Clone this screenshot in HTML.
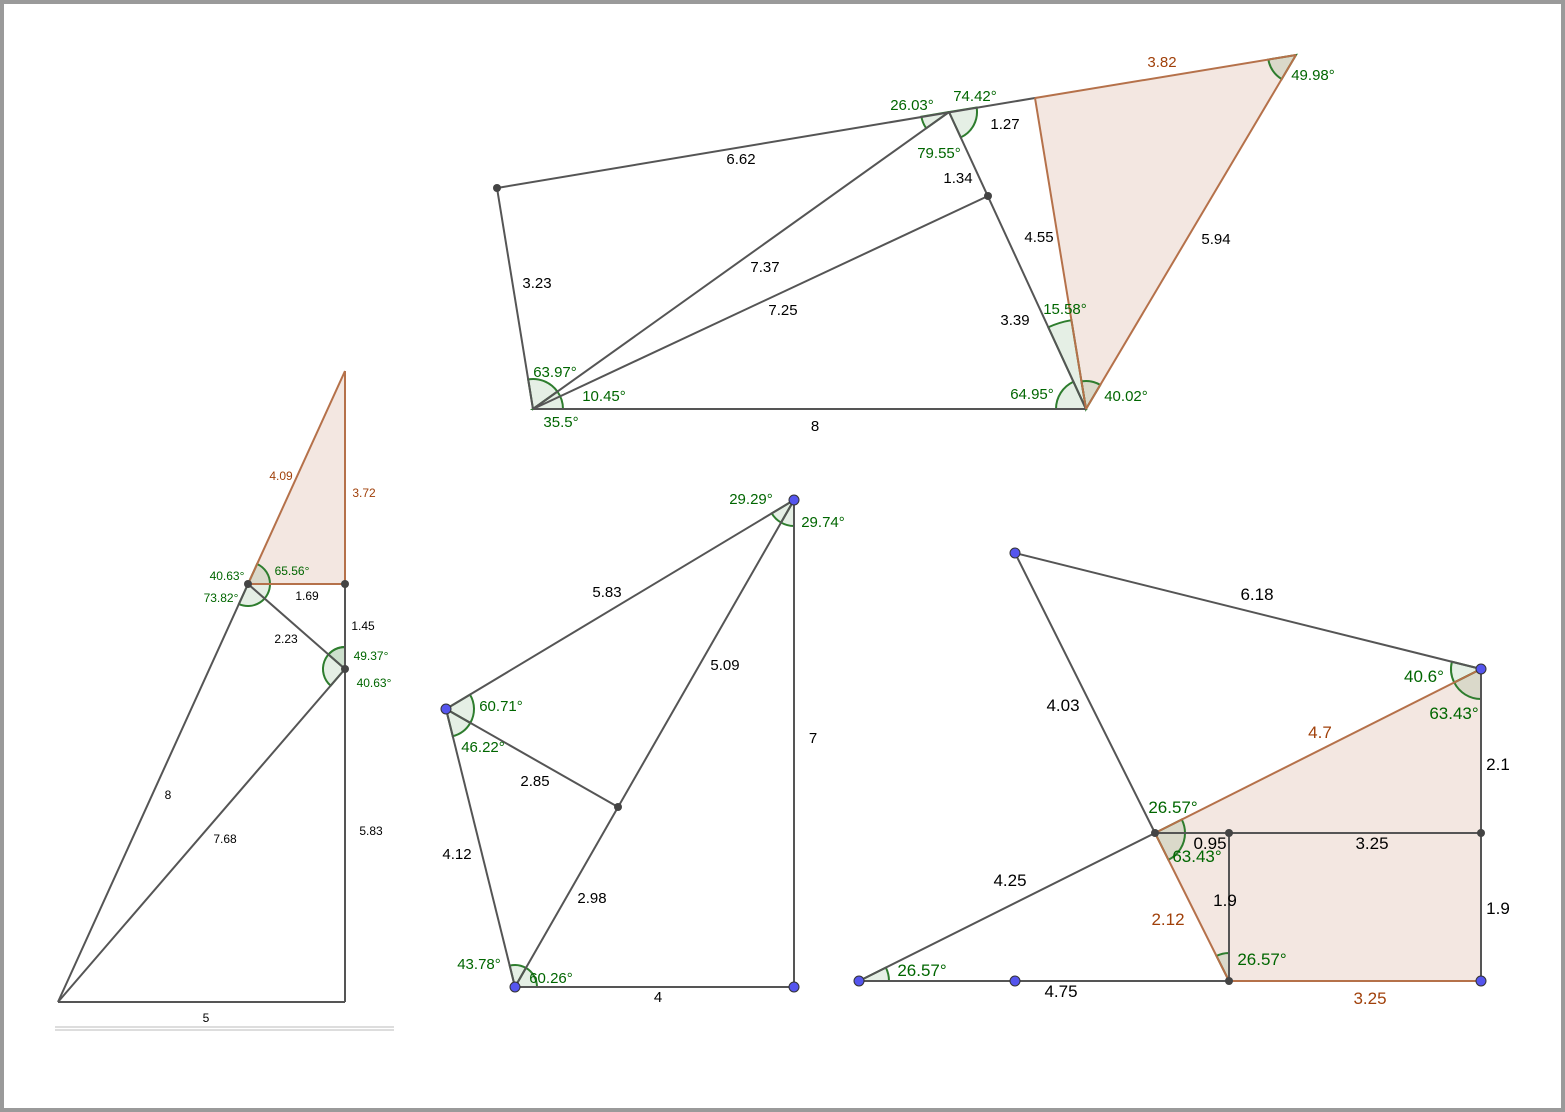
<!DOCTYPE html>
<html><head><meta charset="utf-8"><style>
html,body{margin:0;padding:0;background:#fff}
svg{display:block}
text{font-family:"Liberation Sans",sans-serif}
</style></head><body>
<svg id="s" width="1565" height="1112" viewBox="0 0 1565 1112" xmlns="http://www.w3.org/2000/svg">
<rect x="2" y="2" width="1561" height="1108" fill="#fff" stroke="#9a9a9a" stroke-width="4"/>
<line x1="55" y1="1027" x2="394" y2="1027" stroke="#bbb" stroke-width="1"/>
<line x1="55" y1="1030" x2="394" y2="1030" stroke="#bbb" stroke-width="1"/>
<g id="g"></g>
</svg>
<script>
const P = {
  A:[58,1002],B:[345,1002],C:[345,669],D:[345,584],E:[248,584],F:[345,371],
  P1:[497,188],P2:[533,409],P3:[1086,409],P4:[949,112],P5:[1035,98],P6:[1296,55],P7:[988,196],
  Q1:[794,500],Q2:[446,709],Q3:[515,987],Q4:[794,987],Q5:[618,807],
  R1:[1015,553],R2:[1481,669],R3:[1155,833],R4:[1229,833],R5:[1481,833],R6:[859,981],R7:[1015,981],R8:[1229,981],R9:[1481,981]
};
const fills = [["E","D","F"],["P5","P6","P3"],["R3","R2","R9","R8"]];
const grayEdges = [["A","B"],["B","D"],["A","E"],["A","C"],["E","C"],
 ["P1","P5"],["P1","P2"],["P2","P3"],["P2","P4"],["P2","P7"],["P4","P3"],
 ["Q1","Q2"],["Q1","Q3"],["Q2","Q5"],["Q2","Q3"],["Q3","Q4"],["Q4","Q1"],
 ["R1","R2"],["R1","R3"],["R6","R3"],["R3","R5"],["R4","R8"],["R2","R5"],["R5","R9"],["R6","R8"]];
const brownEdges = [["E","D"],["D","F"],["E","F"],["P5","P6"],["P6","P3"],["P5","P3"],["R3","R2"],["R3","R8"],["R8","R9"]];
const angles = [
 ["E","A","D",22],["E","D","F",22],["C","E","D",22],["C","A","D",22],
 ["P4","P1","P2",28],["P4","P7","P5",28],["P2","P3","P4",30],["P2","P1","P4",30],
 ["P3","P4","P2",30],["P3","P5","P4",90],["P3","P5","P6",28],["P6","P5","P3",28],
 ["Q1","Q2","Q3",26],["Q1","Q3","Q4",26],["Q2","Q1","Q5",28],["Q2","Q5","Q3",28],["Q3","Q2","Q5",22],["Q3","Q5","Q4",22],
 ["R2","R1","R3",30],["R2","R3","R5",30],["R3","R2","R5",30],["R3","R5","R8",30],["R8","R3","R4",28],["R6","R8","R2",30]
];
const labels = [
 ["5",206,1022,"#000",12],["8",168,799,"#000",12],["7.68",225,843,"#000",12],["5.83",371,835,"#000",12],["1.45",363,630,"#000",12],
 ["2.23",286,643,"#000",12],["1.69",307,600,"#000",12],["4.09",281,480,"#a0400a",12],["3.72",364,497,"#a0400a",12],
 ["40.63°",227,580,"#006600",12],["65.56°",292,575,"#006600",12],["73.82°",221,602,"#006600",12],["49.37°",371,660,"#006600",12],["40.63°",374,687,"#006600",12],
 ["6.62",741,164,"#000",15],["3.23",537,288,"#000",15],["7.37",765,272,"#000",15],["7.25",783,315,"#000",15],["8",815,431,"#000",15],
 ["1.27",1005,129,"#000",15],["1.34",958,183,"#000",15],["4.55",1039,242,"#000",15],["3.39",1015,325,"#000",15],["5.94",1216,244,"#000",15],["3.82",1162,67,"#a0400a",15],
 ["26.03°",912,110,"#006600",15],["74.42°",975,101,"#006600",15],["79.55°",939,158,"#006600",15],["49.98°",1313,80,"#006600",15],
 ["15.58°",1065,314,"#006600",15],["64.95°",1032,399,"#006600",15],["40.02°",1126,401,"#006600",15],
 ["63.97°",555,377,"#006600",15],["10.45°",604,401,"#006600",15],["35.5°",561,427,"#006600",15],
 ["5.83",607,597,"#000",15],["5.09",725,670,"#000",15],["7",813,743,"#000",15],["2.85",535,786,"#000",15],["4.12",457,859,"#000",15],["2.98",592,903,"#000",15],["4",658,1002,"#000",15],
 ["29.29°",751,504,"#006600",15],["29.74°",823,527,"#006600",15],["60.71°",501,711,"#006600",15],["46.22°",483,752,"#006600",15],["43.78°",479,969,"#006600",15],["60.26°",551,983,"#006600",15],
 ["6.18",1257,600,"#000",17],["4.03",1063,711,"#000",17],["4.25",1010,886,"#000",17],["4.75",1061,997,"#000",17],["0.95",1210,849,"#000",17],["3.25",1372,849,"#000",17],
 ["1.9",1225,906,"#000",17],["1.9",1498,914,"#000",17],["2.1",1498,770,"#000",17],["4.7",1320,738,"#a0400a",17],["2.12",1168,925,"#a0400a",17],["3.25",1370,1004,"#a0400a",17],
 ["40.6°",1424,682,"#006600",17],["63.43°",1454,719,"#006600",17],["26.57°",1173,813,"#006600",17],["63.43°",1197,862,"#006600",17],["26.57°",1262,965,"#006600",17],["26.57°",922,976,"#006600",17]
];
const darkPts = ["E","D","C","P1","P7","Q5","R3","R4","R5","R8"];
const bluePts = ["Q1","Q2","Q3","Q4","R1","R2","R6","R7","R9"];
const NS="http://www.w3.org/2000/svg", g=document.getElementById('g');
function mk(t,a){const e=document.createElementNS(NS,t);for(const k in a)e.setAttribute(k,a[k]);g.appendChild(e);return e;}
fills.forEach((f,i)=>{const e=mk('polygon',{points:f.map(k=>P[k].join(',')).join(' '),fill:'#f3e7e1',stroke:'none'});

});
angles.forEach((a,i)=>{const v=P[a[0]],p=P[a[1]],q=P[a[2]],r=a[3];
 let a1=Math.atan2(p[1]-v[1],p[0]-v[0]),a2=Math.atan2(q[1]-v[1],q[0]-v[0]);
 let d=a2-a1;while(d<=-Math.PI)d+=2*Math.PI;while(d>Math.PI)d-=2*Math.PI;
 const x1=v[0]+r*Math.cos(a1),y1=v[1]+r*Math.sin(a1),x2=v[0]+r*Math.cos(a1+d),y2=v[1]+r*Math.sin(a1+d);
 const e=mk('path',{d:`M${v[0]},${v[1]} L${x1},${y1} A${r},${r} 0 0 ${d>0?1:0} ${x2},${y2} Z`,fill:'rgba(0,100,0,0.1)',stroke:'#2e7d2e','stroke-width':2});
 
 });
grayEdges.forEach(s=>{const e=mk('line',{x1:P[s[0]][0],y1:P[s[0]][1],x2:P[s[1]][0],y2:P[s[1]][1],stroke:'#555','stroke-width':2});
 
 });
brownEdges.forEach(s=>{const e=mk('line',{x1:P[s[0]][0],y1:P[s[0]][1],x2:P[s[1]][0],y2:P[s[1]][1],stroke:'#b5714a','stroke-width':2});
 
 });
darkPts.forEach(k=>{const e=mk('circle',{cx:P[k][0],cy:P[k][1],r:4,fill:'#444'});
 
 });
bluePts.forEach(k=>{const e=mk('circle',{cx:P[k][0],cy:P[k][1],r:5,fill:'#5555ee',stroke:'#333','stroke-width':1});
 
 });
labels.forEach(l=>{const e=mk('text',{x:l[1],y:l[2],fill:l[3],'font-size':l[4],'text-anchor':'middle'});e.textContent=l[0];
 
 });
</script>
</body></html>
